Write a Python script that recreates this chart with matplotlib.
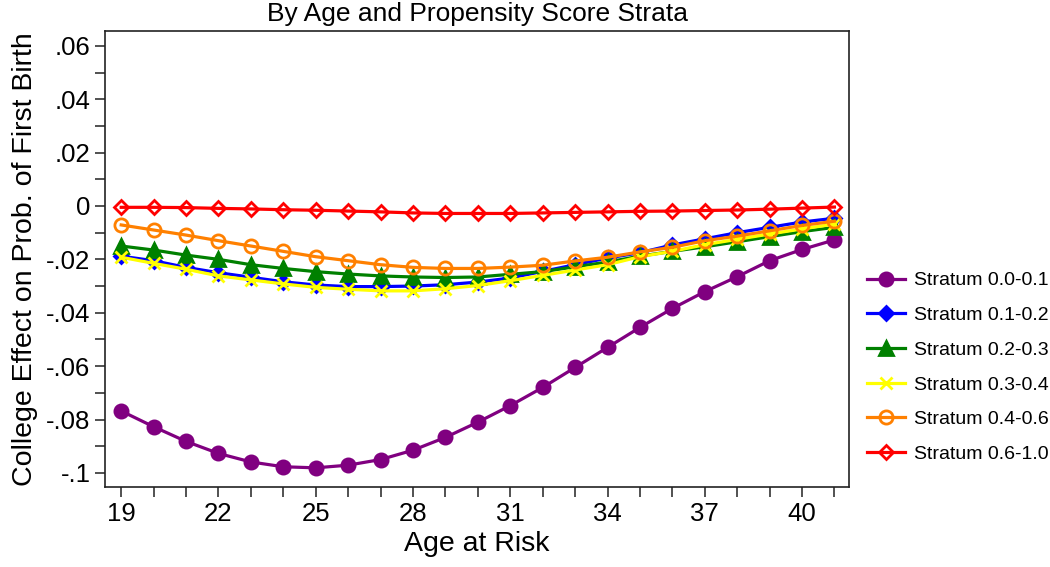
"""College effect on first birth probability, by age and propensity score strata."""
import matplotlib
matplotlib.use("Agg")
import matplotlib.pyplot as plt
from matplotlib.ticker import FixedLocator, MultipleLocator

plt.rcParams["font.family"] = ["Liberation Sans", "DejaVu Sans"]

ages = list(range(19, 42))

stratum_labels = ["Stratum 0.0-0.1", "Stratum 0.1-0.2", "Stratum 0.2-0.3",
                  "Stratum 0.3-0.4", "Stratum 0.4-0.6", "Stratum 0.6-1.0"]

s00_01 = [-0.0768, -0.0827, -0.0882, -0.0927, -0.0959, -0.0977, -0.0981, -0.0971,
          -0.0950, -0.0915, -0.0867, -0.0810, -0.0748, -0.0680, -0.0605, -0.0530,
          -0.0455, -0.0384, -0.0321, -0.0265, -0.0205, -0.0163, -0.0127]
s01_02 = [-0.0188, -0.0205, -0.0230, -0.0250, -0.0267, -0.0284, -0.0296, -0.0302,
          -0.0302, -0.0300, -0.0295, -0.0285, -0.0270, -0.0245, -0.0220, -0.0195,
          -0.0175, -0.0146, -0.0123, -0.0100, -0.0080, -0.0060, -0.0046]
s02_03 = [-0.0150, -0.0165, -0.0184, -0.0200, -0.0220, -0.0234, -0.0246, -0.0255,
          -0.0262, -0.0266, -0.0268, -0.0266, -0.0256, -0.0246, -0.0228, -0.0210,
          -0.0188, -0.0170, -0.0153, -0.0134, -0.0115, -0.0096, -0.0080]
s03_04 = [-0.0192, -0.0215, -0.0237, -0.0262, -0.0277, -0.0292, -0.0305, -0.0312,
          -0.0318, -0.0318, -0.0310, -0.0298, -0.0280, -0.0260, -0.0240, -0.0220,
          -0.0190, -0.0170, -0.0145, -0.0125, -0.0105, -0.0086, -0.0068]
s04_06 = [-0.0071, -0.0090, -0.0109, -0.0130, -0.0150, -0.0170, -0.0190, -0.0205,
          -0.0220, -0.0230, -0.0234, -0.0234, -0.0229, -0.0222, -0.0206, -0.0192,
          -0.0172, -0.0155, -0.0130, -0.0113, -0.0093, -0.0073, -0.0057]
s06_10 = [-0.0005, -0.0005, -0.0006, -0.0009, -0.0011, -0.0014, -0.0016, -0.0019,
          -0.0022, -0.0026, -0.0028, -0.0028, -0.0028, -0.0026, -0.0024, -0.0022,
          -0.0020, -0.0019, -0.0017, -0.0015, -0.0012, -0.0008, -0.0004]

x_tick_ages = [19, 22, 25, 28, 31, 34, 37, 40]
y_tick_values = [0.06, 0.04, 0.02, 0.0, -0.02, -0.04, -0.06, -0.08, -0.1]
y_tick_labels = [".06", ".04", ".02", "0", "-.02", "-.04", "-.06", "-.08", "-.1"]

# colour, marker, size, filled
styles = [
    ("#800080", "o", 9.5, True),
    ("#0000ff", "D", 7.5, True),
    ("#008000", "^", 10.0, True),
    ("#ffff00", "x", 8.5, True),
    ("#ff8000", "o", 9.5, False),
    ("#ff0000", "D", 7.5, False),
]

fig = plt.figure(figsize=(10.5, 5.67), dpi=100)
ax = fig.add_axes([0.1, 0.141, 0.7086, 0.805])

series = [s00_01, s01_02, s02_03, s03_04, s04_06, s06_10]
for vals, label, (color, marker, ms, filled) in zip(series, stratum_labels, styles):
    ax.plot(ages, vals, color=color, linewidth=2.3, marker=marker, markersize=ms,
            markerfacecolor=color if filled else "none", markeredgecolor=color,
            markeredgewidth=2.0, label=label)

ax.set_xlim(18.5, 41.45)
ax.set_ylim(-0.1053, 0.0657)
ax.xaxis.set_major_locator(FixedLocator(x_tick_ages))
ax.xaxis.set_minor_locator(MultipleLocator(1))
ax.yaxis.set_major_locator(FixedLocator(y_tick_values))
ax.yaxis.set_minor_locator(MultipleLocator(0.01))
ax.set_yticklabels(y_tick_labels)
ax.tick_params(which="both", direction="out", length=7, width=1.1, colors="#222222",
               labelsize=18.5, labelcolor="black")
for sp in ax.spines.values():
    sp.set_linewidth(1.2); sp.set_color("#222222")

ax.set_xlabel("Age at Risk", fontsize=20.5, labelpad=4)
ax.set_ylabel("College Effect on Prob. of First Birth", fontsize=20.5, labelpad=6)
ax.set_title("By Age and Propensity Score Strata", fontsize=19, pad=7)

fig.legend(loc="center left", bbox_to_anchor=(0.8257, 0.352), frameon=False,
           fontsize=14, handlelength=1.95, handletextpad=0.45, labelspacing=0.88,
           borderaxespad=0, borderpad=0)

fig.savefig("out.png", dpi=100)
plt.close(fig)
